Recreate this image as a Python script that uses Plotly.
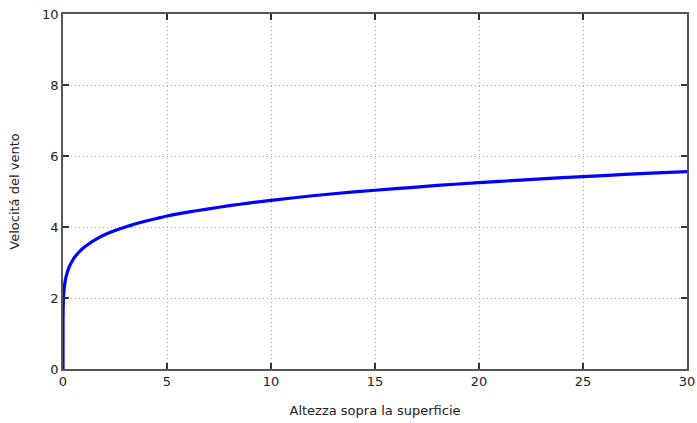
import plotly.graph_objects as go

# Values
altezza = [0, 0.001, 0.003, 0.01, 0.03, 0.075, 0.15, 0.3, 0.45, 0.6, 0.8, 1, 1.25, 1.6, 2, 2.5, 3, 3.5, 4, 4.5, 5, 6, 7, 8, 9, 10, 12, 14, 16, 18, 20, 22, 24, 26, 28, 30]
velocita = [0, 1.28, 1.49, 1.77, 2.07, 2.36, 2.61, 2.88, 3.05, 3.18, 3.31, 3.42, 3.53, 3.66, 3.78, 3.90, 4.00, 4.09, 4.17, 4.24, 4.31, 4.42, 4.51, 4.60, 4.68, 4.75, 4.88, 4.99, 5.08, 5.17, 5.25, 5.32, 5.39, 5.45, 5.51, 5.56]

x_ticks = [0, 5, 10, 15, 20, 25, 30]
y_ticks = [0, 2, 4, 6, 8, 10]

fig = go.Figure()
fig.add_trace(go.Scatter(
    x=altezza, y=velocita, mode="lines",
    line=dict(color="#0000ff", width=3.2, shape="spline", smoothing=0.5),
    showlegend=False, hoverinfo="skip"))

axis_common = dict(
    showline=True, linecolor="#555555", linewidth=1.5, mirror="ticks",
    ticks="inside", ticklen=6, tickwidth=1.5, tickcolor="#333333",
    showgrid=True, gridcolor="#aaaaaa", griddash="1px,3px", gridwidth=1,
    zeroline=False, automargin=False,
    tickfont=dict(family="DejaVu Sans", size=13, color="#222222"),
)

fig.update_xaxes(range=[0, 30], tickvals=x_ticks,
                 title=dict(text="Altezza sopra la superficie", standoff=18,
                            font=dict(family="DejaVu Sans", size=13, color="#222222")),
                 **axis_common)
fig.update_yaxes(range=[0, 10], tickvals=y_ticks,
                 title=dict(text="Velocitá del vento", standoff=20,
                            font=dict(family="DejaVu Sans", size=13, color="#222222")),
                 **axis_common)

fig.update_layout(
    width=697, height=423,
    margin=dict(l=63, r=10, t=14, b=54),
    paper_bgcolor="white", plot_bgcolor="white",
)

fig.write_html("out.html", config={"displayModeBar": False},
               post_script="document.body.style.margin='0';")
